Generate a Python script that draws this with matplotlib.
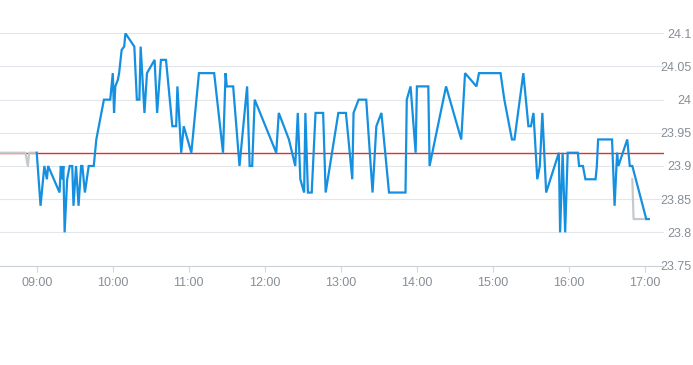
import numpy as np
import pandas as pd
import matplotlib
matplotlib.use('Agg')
import matplotlib.pyplot as plt
import matplotlib.dates as mdates

DAY = '2024-01-02 '

# intraday trade (blue)
times = ['09:00', '09:03', '09:06', '09:08', '09:09', '09:18', '09:19', '09:20',
         '09:21', '09:22', '09:24', '09:26', '09:28', '09:29', '09:31', '09:33',
         '09:35', '09:36', '09:38', '09:41', '09:45', '09:47', '09:49', '09:53',
         '09:58', '10:00', '10:01', '10:02', '10:04', '10:05', '10:07', '10:09',
         '10:10', '10:17', '10:19', '10:21', '10:22', '10:25', '10:27', '10:33',
         '10:35', '10:38', '10:42', '10:47', '10:50', '10:51', '10:54', '10:56',
         '11:02', '11:08', '11:20', '11:27', '11:29', '11:30', '11:35', '11:40',
         '11:46', '11:48', '11:50', '11:52', '12:09', '12:11', '12:19', '12:24',
         '12:26', '12:28', '12:31', '12:32', '12:34', '12:37', '12:40', '12:46',
         '12:48', '12:58', '13:04', '13:09', '13:10', '13:14', '13:20', '13:25',
         '13:28', '13:32', '13:38', '13:51', '13:52', '13:55', '13:59', '14:00',
         '14:09', '14:10', '14:23', '14:35', '14:38', '14:47', '14:49', '15:06',
         '15:09', '15:15', '15:17', '15:24', '15:28', '15:30', '15:32', '15:35',
         '15:37', '15:39', '15:42', '15:52', '15:53', '15:55', '15:57', '15:59',
         '16:07', '16:08', '16:11', '16:13', '16:21', '16:22', '16:23', '16:34',
         '16:36', '16:38', '16:39', '16:46', '16:48', '16:50', '17:01', '17:03']
prices = [23.92, 23.84, 23.90, 23.88, 23.90, 23.86, 23.90, 23.88,
          23.90, 23.80, 23.88, 23.90, 23.90, 23.84, 23.90, 23.84,
          23.90, 23.90, 23.86, 23.90, 23.90, 23.94, 23.96, 24.00,
          24.00, 24.04, 23.98, 24.02, 24.03, 24.04, 24.075, 24.08,
          24.10, 24.08, 24.00, 24.00, 24.08, 23.98, 24.04, 24.06,
          23.98, 24.06, 24.06, 23.96, 23.96, 24.02, 23.92, 23.96,
          23.92, 24.04, 24.04, 23.92, 24.04, 24.02, 24.02, 23.90,
          24.02, 23.90, 23.90, 24.00, 23.92, 23.98, 23.94, 23.90,
          23.98, 23.88, 23.86, 23.98, 23.86, 23.86, 23.98, 23.98,
          23.86, 23.98, 23.98, 23.88, 23.98, 24.00, 24.00, 23.86,
          23.96, 23.98, 23.86, 23.86, 24.00, 24.02, 23.92, 24.02,
          24.02, 23.90, 24.02, 23.94, 24.04, 24.02, 24.04, 24.04,
          24.00, 23.94, 23.94, 24.04, 23.96, 23.96, 23.98, 23.88,
          23.90, 23.98, 23.86, 23.92, 23.80, 23.92, 23.80, 23.92,
          23.92, 23.90, 23.90, 23.88, 23.88, 23.90, 23.94, 23.94,
          23.84, 23.92, 23.90, 23.94, 23.90, 23.90, 23.82, 23.82]

# pre / post session (grey)
pre_times = ['08:30', '08:51', '08:53', '08:54', '09:00']
pre_prices = [23.92, 23.92, 23.90, 23.92, 23.92]
post_times = ['16:50', '16:51', '17:00']
post_prices = [23.88, 23.82, 23.82]

prev_close = 23.92
y_ticks = [23.75, 23.8, 23.85, 23.9, 23.95, 24.0, 24.05, 24.1]


def to_dt(ts):
    return pd.to_datetime([DAY + t for t in ts])


plt.rcParams['font.family'] = ['Liberation Sans Narrow', 'Liberation Sans', 'DejaVu Sans']

fig = plt.figure(figsize=(6.93, 3.65), dpi=100)
ax = fig.add_axes([0.0, 0.2726, 664 / 693, 0.6370])

label_col = '#878e98'

ax.axhline(prev_close, color='#e0312b', lw=1.0, zorder=2)
ax.plot(to_dt(pre_times), pre_prices, color='#c5cacd', lw=1.6, zorder=3)
ax.plot(to_dt(post_times), post_prices, color='#c5cacd', lw=1.6, zorder=3)
ax.plot(to_dt(times), prices, color='#1590e0', lw=1.6, zorder=4,
        solid_joinstyle='miter')

ax.set_xlim(to_dt(['08:31'])[0], to_dt(['17:15'])[0])
ax.set_ylim(23.75, 24.1005)

ax.xaxis.set_major_locator(mdates.HourLocator())
ax.xaxis.set_major_formatter(mdates.DateFormatter('%H:%M'))

ax.set_yticks(y_ticks)
ax.set_yticklabels(['%g' % v for v in y_ticks])
ax.yaxis.tick_right()
ax.tick_params(axis='y', length=0, pad=20, labelsize=9, labelcolor=label_col)
for lbl in ax.get_yticklabels():
    lbl.set_horizontalalignment('right')
ax.tick_params(axis='x', length=4, width=0.8, color='#d5d9de', pad=4,
               labelsize=9, labelcolor=label_col)

ax.grid(axis='y', color='#e3e6ea', lw=0.8)
ax.set_axisbelow(True)
for s in ['top', 'left', 'right']:
    ax.spines[s].set_visible(False)
ax.spines['bottom'].set_color('#ccd1d8')
ax.spines['bottom'].set_linewidth(0.8)

fig.savefig('out.png', dpi=100)
